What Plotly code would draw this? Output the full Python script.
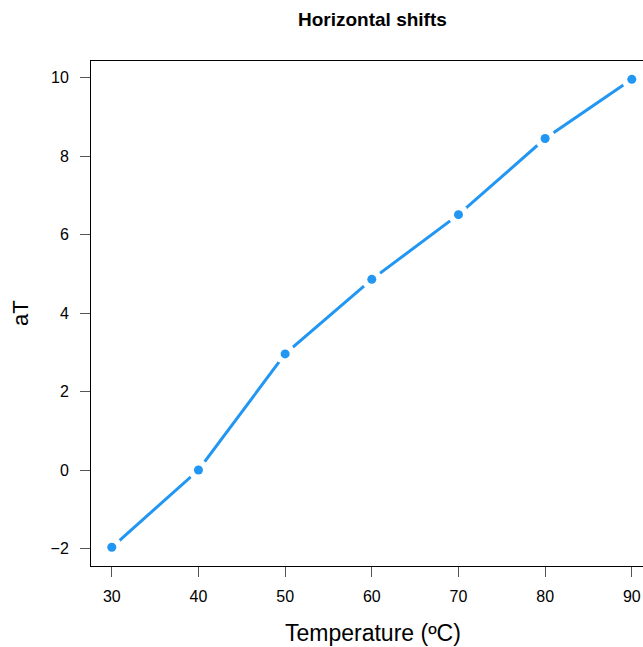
import plotly.graph_objects as go

temperature = [30, 40, 50, 60, 70, 80, 90]
aT = [-1.97, 0.0, 2.96, 4.86, 6.51, 8.45, 9.96]
x_ticks = [30, 40, 50, 60, 70, 80, 90]
y_ticks = [-2, 0, 2, 4, 6, 8, 10]

blue = "#2196F3"
W, H = 643, 647
PL, PT, PB = 91, 61, 566   # plot area edges in page pixels (right edge at page edge)

fig = go.Figure()
fig.add_trace(go.Scatter(x=temperature, y=aT, mode="lines",
                         line=dict(color=blue, width=3), hoverinfo="skip"))
fig.add_trace(go.Scatter(x=temperature, y=aT, mode="markers",
                         marker=dict(color="white", size=21, line=dict(width=0)), hoverinfo="skip"))
fig.add_trace(go.Scatter(x=temperature, y=aT, mode="markers",
                         marker=dict(color=blue, size=9, line=dict(width=0))))

x0 = 27.6
px_per = 520 / 60
x1 = x0 + (W - PL) / px_per

pw = W - PL
ph = PB - PT


def px(xp):
    return (xp - PL) / pw


def py(yp):
    return (PB - yp) / ph


font = "Liberation Sans, Arial, Helvetica, sans-serif"
fig.update_layout(
    width=W, height=H,
    margin=dict(l=PL, r=0, t=PT, b=H - PB, pad=0),
    plot_bgcolor="white", paper_bgcolor="white",
    showlegend=False,
    font=dict(family=font, size=16, color="black"),
    xaxis=dict(range=[x0, x1], tickvals=x_ticks, showgrid=False, zeroline=False,
               showline=True, linecolor="black", linewidth=1, mirror=True,
               ticks="outside", ticklen=10, tickcolor="#555555", tickwidth=1,
               ticklabelstandoff=6, tickfont=dict(size=16)),
    yaxis=dict(range=[-2.447, 10.427], tickvals=y_ticks,
               ticktext=["\u22122", "0", "2", "4", "6", "8", "10"],
               showgrid=False, zeroline=False,
               showline=True, linecolor="black", linewidth=1,
               ticks="outside", ticklen=10, tickcolor="#555555", tickwidth=1,
               ticklabelstandoff=8, tickfont=dict(size=16)),
    annotations=[
        dict(text="<b>Horizontal shifts</b>", xref="paper", yref="paper",
             x=px(372), y=py(20),
             showarrow=False, font=dict(size=19), xanchor="center", yanchor="middle"),
        dict(text="Temperature (ºC)", xref="paper", yref="paper",
             x=px(373), y=py(633),
             showarrow=False, font=dict(size=23), xanchor="center", yanchor="middle"),
        dict(text="aT", xref="paper", yref="paper",
             x=px(20), y=py(313),
             showarrow=False, font=dict(size=22), textangle=-90,
             xanchor="center", yanchor="middle"),
    ],
)

fig.write_html("out.html",
               config={"displayModeBar": False},
               post_script="document.body.style.margin='0';document.body.style.overflow='hidden';")
